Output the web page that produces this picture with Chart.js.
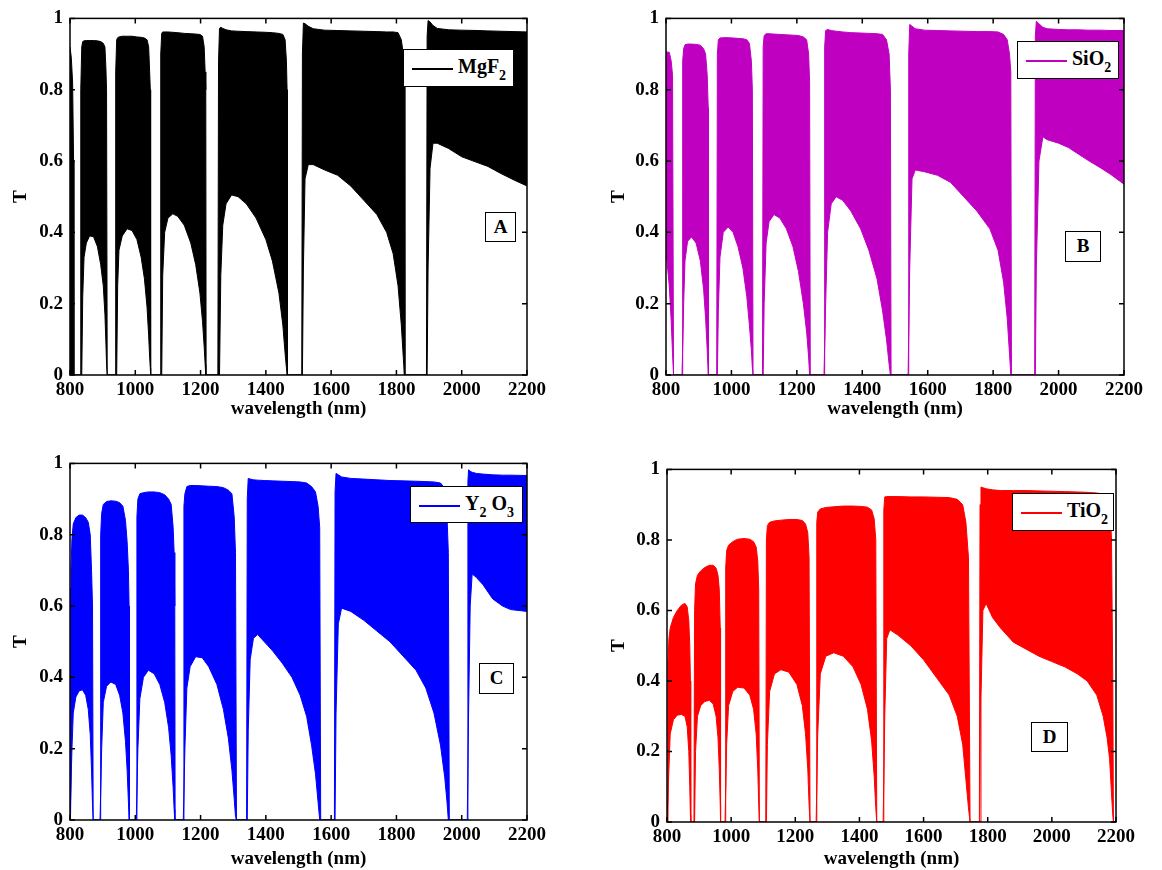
<!DOCTYPE html>
<html>
<head>
<meta charset="utf-8">
<script src="https://cdn.jsdelivr.net/npm/chart.js@4.4.0/dist/chart.umd.min.js"></script>
<style>
  html, body { margin: 0; padding: 0; background: #fff; overflow: hidden; }
  body { width: 1162px; height: 870px; position: relative; font-family: "Liberation Serif", "Times New Roman", "DejaVu Serif", serif; }
  canvas { position: absolute; }
  .legend { position: absolute; background: #fff; border: 1.5px solid #000; box-sizing: border-box; font-weight: bold; font-size: 20px; }
  .legend .swatch { position: absolute; left: 8px; width: 41px; height: 0; border-top: 2px solid; }
  .legend .name { position: absolute; left: 54px; white-space: nowrap; line-height: 20px; }
  .legend sub { font-size: 14px; vertical-align: -7px; line-height: 0; }
  .tag { position: absolute; background: #fff; border: 1.5px solid #000; box-sizing: border-box; font-weight: bold; font-size: 19px; text-align: center; }
</style>
</head>
<body>
<script>
// Tick values shared by all four panels
const xTicks = [800, 1000, 1200, 1400, 1600, 1800, 2000, 2200];
const yTicks = [0, 0.2, 0.4, 0.6, 0.8, 1];

// Each row: [wavelength (nm), upper envelope of T, lower envelope of T]
const mgf2 = [
  [800,0.92,0],[804,0.89,0],[808,0.82,0],[811,0.6,0],[812,0,0],
  [831,0,0],[833,0.8,0],[836,0.92,0],[839,0.935,0.22],[843,0.937,0.33],[850,0.938,0.37],[860,0.938,0.39],[872,0.938,0.388],[884,0.937,0.36],[894,0.935,0.31],[902,0.93,0.25],[907,0.92,0.17],[910,0.86,0.09],[912,0.8,0.03],[914,0,0],
  [938,0,0],[940,0.85,0],[943,0.94,0],[946,0.946,0.25],[950,0.948,0.35],[960,0.95,0.39],[975,0.95,0.41],[990,0.95,0.405],[1005,0.948,0.38],[1018,0.947,0.33],[1028,0.945,0.27],[1036,0.94,0.19],[1041,0.92,0.11],[1044,0.85,0.05],[1046,0.8,0.02],[1047,0,0],
  [1076,0,0],[1078,0.9,0],[1081,0.958,0],[1084,0.962,0.28],[1090,0.962,0.4],[1100,0.962,0.44],[1115,0.961,0.452],[1130,0.96,0.445],[1150,0.958,0.42],[1170,0.957,0.37],[1185,0.956,0.31],[1198,0.955,0.23],[1206,0.95,0.15],[1211,0.92,0.08],[1214,0.85,0.03],[1216,0.8,0],[1217,0,0],
  [1253,0,0],[1255,0.88,0],[1258,0.972,0],[1262,0.975,0.28],[1268,0.972,0.42],[1278,0.968,0.48],[1295,0.965,0.505],[1315,0.964,0.5],[1340,0.963,0.48],[1370,0.962,0.44],[1400,0.961,0.38],[1420,0.96,0.32],[1440,0.958,0.23],[1452,0.955,0.14],[1459,0.94,0.06],[1463,0.88,0.02],[1465,0.8,0],[1466,0,0],
  [1510,0,0],[1512,0.9,0],[1515,0.987,0.3],[1520,0.985,0.55],[1530,0.978,0.59],[1545,0.971,0.59],[1580,0.967,0.575],[1620,0.966,0.56],[1660,0.965,0.53],[1700,0.964,0.49],[1740,0.963,0.45],[1770,0.962,0.4],[1790,0.962,0.34],[1805,0.96,0.25],[1815,0.94,0.14],[1821,0.9,0.05],[1824,0.85,0],[1826,0,0],
  [1892,0,0],[1894,0.95,0],[1897,0.994,0.3],[1903,0.99,0.58],[1912,0.98,0.65],[1925,0.972,0.65],[1960,0.968,0.635],[2000,0.967,0.612],[2050,0.966,0.595],[2080,0.965,0.585],[2120,0.964,0.565],[2160,0.963,0.547],[2200,0.962,0.53]
];

const sio2 = [
  [800,0.906,0.35],[810,0.905,0.25],[816,0.88,0.15],[820,0.84,0.06],[823,0,0],
  [849,0,0],[851,0.88,0],[854,0.915,0.2],[858,0.926,0.32],[866,0.928,0.375],[878,0.928,0.387],[892,0.927,0.37],[905,0.925,0.32],[915,0.915,0.24],[921,0.9,0.16],[926,0.84,0.07],[929,0.75,0],[930,0,0],
  [955,0,0],[957,0.9,0],[960,0.94,0.18],[965,0.945,0.33],[975,0.946,0.4],[990,0.946,0.415],[1005,0.945,0.4],[1020,0.944,0.36],[1035,0.943,0.3],[1047,0.94,0.22],[1055,0.93,0.14],[1061,0.88,0.07],[1064,0.8,0.02],[1066,0,0],
  [1095,0,0],[1097,0.92,0],[1100,0.952,0.2],[1106,0.957,0.37],[1115,0.957,0.43],[1130,0.956,0.45],[1148,0.955,0.44],[1168,0.954,0.41],[1188,0.953,0.36],[1205,0.952,0.29],[1220,0.948,0.2],[1230,0.94,0.12],[1236,0.9,0.05],[1239,0.82,0],[1241,0,0],
  [1283,0,0],[1285,0.92,0],[1288,0.966,0.2],[1294,0.969,0.4],[1305,0.966,0.48],[1320,0.964,0.5],[1340,0.962,0.49],[1365,0.96,0.46],[1395,0.959,0.41],[1420,0.958,0.35],[1445,0.957,0.27],[1462,0.955,0.18],[1474,0.94,0.1],[1482,0.9,0.03],[1486,0.8,0],[1488,0,0],
  [1540,0,0],[1542,0.9,0],[1545,0.983,0.3],[1552,0.978,0.55],[1562,0.971,0.575],[1590,0.967,0.57],[1630,0.966,0.56],[1670,0.965,0.54],[1710,0.964,0.5],[1750,0.963,0.46],[1790,0.963,0.41],[1815,0.962,0.35],[1832,0.955,0.26],[1843,0.94,0.16],[1850,0.9,0.06],[1854,0.85,0],[1856,0,0],
  [1927,0,0],[1929,0.95,0],[1932,0.992,0.3],[1940,0.985,0.6],[1952,0.975,0.668],[1965,0.971,0.66],[2000,0.969,0.65],[2030,0.968,0.638],[2060,0.968,0.62],[2090,0.967,0.602],[2130,0.967,0.58],[2160,0.966,0.562],[2200,0.966,0.535]
];

const y2o3 = [
  [800,0.65,0],[803,0.7,0],[806,0.79,0.2],[810,0.83,0.3],[818,0.848,0.345],[828,0.855,0.362],[838,0.855,0.365],[848,0.848,0.35],[856,0.835,0.31],[862,0.8,0.24],[866,0.7,0.14],[869,0.6,0.04],[871,0,0],
  [892,0,0],[894,0.8,0],[897,0.86,0.2],[902,0.885,0.33],[912,0.893,0.375],[925,0.895,0.387],[940,0.894,0.38],[952,0.89,0.35],[962,0.88,0.3],[970,0.84,0.22],[975,0.78,0.14],[979,0.7,0.05],[981,0.6,0],[982,0,0],
  [1003,0,0],[1005,0.85,0],[1008,0.9,0.2],[1014,0.915,0.34],[1025,0.918,0.4],[1040,0.92,0.42],[1058,0.92,0.41],[1075,0.918,0.38],[1090,0.912,0.33],[1102,0.9,0.26],[1110,0.885,0.18],[1116,0.82,0.09],[1119,0.75,0.03],[1121,0.6,0],[1122,0,0],
  [1147,0,0],[1149,0.88,0],[1152,0.915,0.2],[1158,0.935,0.37],[1168,0.938,0.43],[1185,0.938,0.458],[1205,0.937,0.455],[1225,0.936,0.43],[1250,0.935,0.38],[1270,0.932,0.31],[1285,0.925,0.23],[1296,0.915,0.14],[1303,0.85,0.06],[1307,0.75,0.01],[1310,0,0],
  [1341,0,0],[1343,0.9,0],[1346,0.958,0.25],[1352,0.956,0.45],[1362,0.954,0.51],[1375,0.953,0.52],[1395,0.952,0.5],[1420,0.951,0.475],[1450,0.95,0.44],[1480,0.949,0.4],[1505,0.948,0.35],[1525,0.945,0.29],[1540,0.935,0.21],[1552,0.92,0.13],[1560,0.88,0.05],[1565,0.82,0],[1568,0,0],
  [1610,0,0],[1612,0.92,0],[1615,0.972,0.3],[1622,0.968,0.55],[1632,0.962,0.594],[1660,0.958,0.585],[1700,0.956,0.56],[1740,0.954,0.53],[1780,0.952,0.5],[1820,0.951,0.46],[1860,0.95,0.42],[1890,0.949,0.37],[1915,0.948,0.3],[1935,0.945,0.21],[1948,0.93,0.12],[1955,0.85,0.05],[1959,0.75,0],[1962,0,0],
  [2017,0,0],[2019,0.95,0],[2021,0.982,0.3],[2026,0.978,0.6],[2032,0.975,0.69],[2045,0.972,0.68],[2065,0.97,0.66],[2095,0.968,0.62],[2125,0.967,0.6],[2150,0.967,0.59],[2200,0.966,0.585]
];

const tio2 = [
  [800,0,0],[803,0.45,0],[806,0.52,0.15],[810,0.55,0.25],[820,0.58,0.29],[832,0.6,0.303],[845,0.615,0.305],[856,0.62,0.3],[863,0.61,0.27],[868,0.57,0.2],[871,0.5,0.1],[873,0.4,0.02],[874,0,0],
  [884,0,0],[886,0.6,0],[889,0.676,0.2],[895,0.7,0.3],[905,0.712,0.33],[918,0.722,0.342],[932,0.728,0.345],[944,0.728,0.335],[953,0.72,0.3],[959,0.7,0.24],[963,0.66,0.15],[966,0.55,0.05],[967,0,0],
  [981,0,0],[983,0.72,0],[986,0.77,0.22],[992,0.785,0.33],[1005,0.795,0.37],[1020,0.802,0.382],[1040,0.804,0.38],[1058,0.802,0.36],[1070,0.795,0.32],[1078,0.78,0.25],[1083,0.74,0.15],[1086,0.66,0.05],[1088,0,0],
  [1108,0,0],[1110,0.8,0],[1113,0.841,0.22],[1120,0.85,0.37],[1135,0.854,0.42],[1155,0.856,0.432],[1180,0.858,0.425],[1205,0.858,0.39],[1222,0.855,0.33],[1232,0.845,0.25],[1239,0.82,0.15],[1243,0.75,0.05],[1246,0,0],
  [1265,0,0],[1267,0.85,0],[1270,0.879,0.25],[1278,0.888,0.42],[1295,0.892,0.47],[1320,0.894,0.48],[1350,0.896,0.47],[1380,0.896,0.44],[1405,0.895,0.39],[1425,0.893,0.32],[1438,0.885,0.23],[1446,0.86,0.13],[1451,0.8,0.04],[1454,0,0],
  [1474,0,0],[1476,0.884,0],[1479,0.922,0.3],[1485,0.923,0.52],[1495,0.923,0.545],[1520,0.923,0.53],[1560,0.922,0.5],[1600,0.922,0.46],[1640,0.921,0.41],[1680,0.92,0.36],[1705,0.915,0.3],[1722,0.9,0.22],[1732,0.85,0.12],[1740,0.75,0.04],[1745,0,0],
  [1774,0,0],[1776,0.9,0],[1779,0.95,0.35],[1785,0.948,0.6],[1795,0.945,0.62],[1815,0.942,0.58],[1840,0.94,0.55],[1880,0.94,0.51],[1920,0.94,0.49],[1960,0.939,0.47],[2000,0.938,0.455],[2040,0.937,0.44],[2080,0.936,0.42],[2110,0.935,0.4],[2140,0.933,0.36],[2160,0.93,0.3],[2172,0.93,0.24],[2180,0.92,0.18],[2186,0.8,0.08],[2190,0.4,0.02],[2192,0,0],[2200,0,0]
];

const legendNames = ['MgF<sub>2</sub>', 'SiO<sub>2</sub>', 'Y<sub>2</sub> O<sub>3</sub>', 'TiO<sub>2</sub>'];
const panelLetters = ['A', 'B', 'C', 'D'];

// Page layout of the four panels (pixels)
const panels = [
  { rows: mgf2, color: '#000000', canvas: { left: 0, top: 0, w: 560, h: 430 },
    area: { left: 70, top: 18, right: 527, bottom: 375 }, titlePad: 10,
    legend: { l: 403, t: 49, w: 111, h: 38 }, tag: { l: 485, t: 212, w: 31, h: 30 } },
  { rows: sio2, color: '#C000C0', canvas: { left: 598, top: 0, w: 560, h: 430 },
    area: { left: 666, top: 18, right: 1124, bottom: 375 }, titlePad: 10,
    legend: { l: 1017, t: 41, w: 102, h: 38 }, tag: { l: 1065, t: 231, w: 36, h: 31 } },
  { rows: y2o3, color: '#0000FF', canvas: { left: 0, top: 445, w: 560, h: 425 },
    area: { left: 70, top: 463, right: 527, bottom: 820 }, titlePad: 0,
    legend: { l: 410, t: 486, w: 113, h: 37 }, tag: { l: 479, t: 663, w: 35, h: 31 } },
  { rows: tio2, color: '#FF0000', canvas: { left: 598, top: 451, w: 560, h: 419 },
    area: { left: 667, top: 469, right: 1116, bottom: 822 }, titlePad: 0,
    legend: { l: 1012, t: 493, w: 102, h: 38 }, tag: { l: 1031, t: 722, w: 37, h: 30 } }
];

const axisFont = { family: '"Liberation Serif", "Times New Roman", "DejaVu Serif", serif', size: 19, weight: 'bold' };

// MATLAB-style box with inward ticks on all four sides
const boxPlugin = {
  id: 'matlabBox',
  afterDraw(chart) {
    const { ctx, chartArea: a, scales: { x, y } } = chart;
    ctx.save();
    ctx.strokeStyle = '#000';
    ctx.lineWidth = 1.5;
    ctx.strokeRect(a.left, a.top, a.right - a.left, a.bottom - a.top);
    ctx.beginPath();
    xTicks.forEach(v => {
      const px = x.getPixelForValue(v);
      ctx.moveTo(px, a.bottom); ctx.lineTo(px, a.bottom - 5);
      ctx.moveTo(px, a.top); ctx.lineTo(px, a.top + 5);
    });
    yTicks.forEach(v => {
      const py = y.getPixelForValue(v);
      ctx.moveTo(a.left, py); ctx.lineTo(a.left + 5, py);
      ctx.moveTo(a.right, py); ctx.lineTo(a.right - 5, py);
    });
    ctx.stroke();
    ctx.restore();
  }
};

function makePanel(p, i) {
  const canvas = document.createElement('canvas');
  canvas.width = p.canvas.w;
  canvas.height = p.canvas.h;
  canvas.style.left = p.canvas.left + 'px';
  canvas.style.top = p.canvas.top + 'px';
  document.body.appendChild(canvas);

  const padLeft = 8;
  const yWidth = p.area.left - p.canvas.left - padLeft;
  const xHeight = p.canvas.top + p.canvas.h - p.area.bottom;

  new Chart(canvas, {
    type: 'line',
    data: {
      datasets: [
        { data: p.rows.map(r => ({ x: r[0], y: r[1] })), borderColor: p.color, backgroundColor: p.color,
          borderWidth: 1, fill: '+1', pointRadius: 0, tension: 0 },
        { data: p.rows.map(r => ({ x: r[0], y: r[2] })), borderColor: p.color,
          borderWidth: 1, fill: false, pointRadius: 0, tension: 0 }
      ]
    },
    options: {
      responsive: false,
      animation: false,
      events: [],
      layout: { padding: { left: padLeft, top: p.area.top - p.canvas.top, right: p.canvas.left + p.canvas.w - p.area.right, bottom: 0 } },
      plugins: { legend: { display: false }, tooltip: { enabled: false } },
      scales: {
        x: {
          type: 'linear', min: 800, max: 2200,
          afterBuildTicks: s => { s.ticks = xTicks.map(v => ({ value: v })); },
          afterFit: s => { s.height = xHeight; },
          ticks: { font: axisFont, color: '#000', padding: 4, maxRotation: 0, autoSkip: false, callback: v => String(v) },
          grid: { display: false, drawTicks: false },
          border: { display: false },
          title: { display: true, text: 'wavelength (nm)', font: axisFont, color: '#000', padding: { top: 0, bottom: p.titlePad } }
        },
        y: {
          type: 'linear', min: 0, max: 1,
          afterBuildTicks: s => { s.ticks = yTicks.map(v => ({ value: v })); },
          afterFit: s => { s.width = yWidth; },
          ticks: { font: axisFont, color: '#000', padding: 7, autoSkip: false, callback: v => String(v) },
          grid: { display: false, drawTicks: false },
          border: { display: false },
          title: { display: true, text: 'T', font: axisFont, color: '#000', padding: { top: 2, bottom: 0 } }
        }
      }
    },
    plugins: [boxPlugin]
  });

  const lg = document.createElement('div');
  lg.className = 'legend';
  Object.assign(lg.style, { left: p.legend.l + 'px', top: p.legend.t + 'px', width: p.legend.w + 'px', height: p.legend.h + 'px' });
  const mid = Math.round(p.legend.h / 2) - 1;
  lg.innerHTML = `<div class="swatch" style="top:${mid}px;border-color:${p.color}"></div>` +
    `<div class="name" style="top:${mid - 12}px">${legendNames[i]}</div>`;
  document.body.appendChild(lg);

  const tag = document.createElement('div');
  tag.className = 'tag';
  Object.assign(tag.style, { left: p.tag.l + 'px', top: p.tag.t + 'px', width: p.tag.w + 'px', height: p.tag.h + 'px', lineHeight: (p.tag.h - 3) + 'px' });
  tag.textContent = panelLetters[i];
  document.body.appendChild(tag);
}

panels.forEach(makePanel);
</script>
</body>
</html>
